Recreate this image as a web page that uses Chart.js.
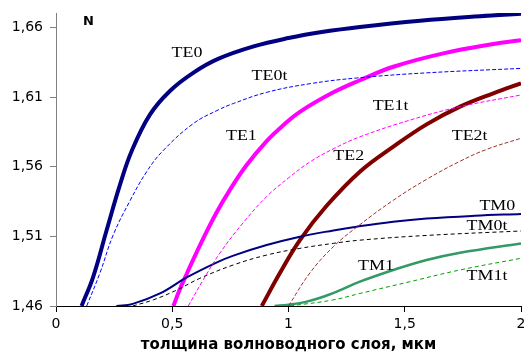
<!DOCTYPE html>
<html>
<head>
<meta charset="utf-8">
<script src="https://cdn.jsdelivr.net/npm/chart.js@4"></script>
<style>
  body { margin: 0; background: #fff; }
  #wrap { width: 524px; height: 356px; }
</style>
</head>
<body>
<div id="wrap"><canvas id="myChart"></canvas></div>
<script>
// значения
const te0X = [0.11, 0.16, 0.218, 0.275, 0.326, 0.404, 0.49, 0.59, 0.697, 0.85, 1.0, 1.15, 1.307, 1.566, 1.8, 2.0];
const te0Y = [1.46, 1.481, 1.5146, 1.547, 1.5715, 1.5975, 1.6145, 1.6275, 1.6375, 1.6465, 1.6525, 1.657, 1.6605, 1.665, 1.668, 1.67];

const te0tX = [0.132, 0.189, 0.246, 0.318, 0.39, 0.46, 0.59, 0.697, 0.763, 0.906, 1.092, 1.293, 1.594, 2.0];
const te0tY = [1.46, 1.4837, 1.511, 1.5355, 1.5565, 1.5715, 1.591, 1.6008, 1.6055, 1.6135, 1.6197, 1.6238, 1.6275, 1.6307];

const te1X = [0.505, 0.53, 0.562, 0.619, 0.69, 0.75, 0.82, 0.906, 0.975, 1.049, 1.193, 1.307, 1.451, 1.666, 1.881, 2.0];
const te1Y = [1.46, 1.471, 1.483, 1.5036, 1.527, 1.544, 1.5613, 1.5785, 1.5895, 1.5995, 1.6135, 1.6222, 1.6319, 1.6415, 1.6482, 1.651];

const te1tX = [0.569, 0.634, 0.705, 0.806, 0.906, 1.0, 1.092, 1.2, 1.307, 1.523, 1.738, 2.0];
const te1tY = [1.46, 1.479, 1.498, 1.52, 1.5386, 1.552, 1.5635, 1.5735, 1.5815, 1.5936, 1.6032, 1.6116];

const te2X = [0.885, 0.963, 1.049, 1.164, 1.307, 1.451, 1.594, 1.738, 1.881, 2.0];
const te2Y = [1.46, 1.4837, 1.5074, 1.532, 1.5565, 1.5745, 1.5905, 1.6032, 1.6128, 1.62];

const te2tX = [1.0, 1.092, 1.193, 1.3, 1.451, 1.594, 1.738, 1.852, 2.0];
const te2tY = [1.46, 1.4837, 1.5026, 1.5175, 1.536, 1.551, 1.564, 1.5725, 1.5805];

const tm0X = [0.26, 0.33, 0.447, 0.562, 0.69, 0.763, 0.906, 1.049, 1.193, 1.293, 1.45, 1.594, 1.8, 2.0];
const tm0Y = [1.46, 1.4615, 1.469, 1.4805, 1.4912, 1.4962, 1.5038, 1.5098, 1.5143, 1.517, 1.5205, 1.5228, 1.5248, 1.5261];

const tm0tX = [0.33, 0.42, 0.52, 0.619, 0.763, 0.906, 1.049, 1.193, 1.307, 1.594, 2.0];
const tm0tY = [1.46, 1.4645, 1.4715, 1.4799, 1.4895, 1.4966, 1.5014, 1.505, 1.5073, 1.5107, 1.5139];

const tm1X = [0.94, 1.0, 1.07, 1.14, 1.22, 1.307, 1.451, 1.594, 1.738, 2.0];
const tm1Y = [1.46, 1.4609, 1.4628, 1.4661, 1.4712, 1.4775, 1.4859, 1.4931, 1.4983, 1.505];

const tm1tX = [1.006, 1.19, 1.307, 1.523, 1.738, 2.0];
const tm1tY = [1.46, 1.4643, 1.469, 1.4775, 1.4859, 1.4943];

// подписи кривых (левый край текста, середина по высоте)
const labelTexts = ["TE0", "TE0t", "TE1", "TE1t", "TE2", "TE2t", "TM0", "TM0t", "TM1", "TM1t"];
const labelX = [0.497, 0.841, 0.731, 1.362, 1.193, 1.702, 1.821, 1.766, 1.299, 1.766];
const labelY = [1.6418, 1.6253, 1.5817, 1.6032, 1.5673, 1.5817, 1.5313, 1.517, 1.4884, 1.4812];

const yTicks = [1.46, 1.51, 1.56, 1.61, 1.66];
const xTicks = [0, 0.5, 1, 1.5, 2];

const toPoints = (xs, ys) => xs.map((x, i) => ({ x: x, y: ys[i] }));
const comma = (v) => String(v).replace(".", ",");

const serie = (xs, ys, color, width, dash) => ({
  data: toPoints(xs, ys),
  borderColor: color,
  borderWidth: width,
  borderDash: dash || [],
  showLine: true,
  pointRadius: 0,
  tension: 0.4,
  fill: false,
});

const datasets = [
  serie(te0tX, te0tY, "#0000ff", 1, [4, 2]),
  serie(te1tX, te1tY, "#ff00ff", 1, [4, 2]),
  serie(te2tX, te2tY, "#a03028", 1, [4, 2]),
  serie(tm0tX, tm0tY, "#000000", 1, [4, 3]),
  serie(tm1tX, tm1tY, "#00a000", 1, [4, 3]),
  serie(tm0X, tm0Y, "#000080", 2),
  serie(tm1X, tm1Y, "#339966", 2.5),
  serie(te2X, te2Y, "#800000", 4),
  serie(te1X, te1Y, "#ff00ff", 4),
  serie(te0X, te0Y, "#000080", 4),
];

const labelsPlugin = {
  id: "curveLabels",
  afterDatasetsDraw(chart) {
    const ctx = chart.ctx;
    const sx = chart.scales.x;
    const sy = chart.scales.y;
    ctx.save();
    ctx.fillStyle = "#000";
    ctx.textBaseline = "middle";
    ctx.textAlign = "left";
    ctx.font = "14px 'Liberation Serif'";
    labelTexts.forEach((t, i) => {
      ctx.save();
      ctx.translate(sx.getPixelForValue(labelX[i]), sy.getPixelForValue(labelY[i]));
      ctx.scale(1.28, 1); // в оригинале надписи растянуты по ширине
      ctx.fillText(t, 0, 0);
      ctx.restore();
    });
    ctx.font = "bold 13px 'DejaVu Sans'";
    ctx.fillText("N", sx.getPixelForValue(0.116), sy.getPixelForValue(1.6645));
    ctx.restore();
  },
};

const config = {
  type: "scatter",
  data: { datasets },
  options: {
    responsive: true,
    maintainAspectRatio: false,
    animation: false,
    layout: { padding: { top: 13, right: 3, left: 0, bottom: 0 } },
    plugins: { legend: { display: false }, tooltip: { enabled: false } },
    scales: {
      x: {
        type: "linear",
        min: 0,
        max: 2,
        afterFit: (scale) => {
          scale.height = 50;
          scale.paddingLeft = 0;
          scale.paddingRight = 0;
        },
        afterBuildTicks: (scale) => { scale.ticks = xTicks.map((v) => ({ value: v })); },
        border: { color: "#000", width: 1 },
        grid: { drawOnChartArea: false, tickLength: 6, tickColor: "#000" },
        ticks: {
          padding: 4,
          maxRotation: 0,
          color: "#000",
          font: { family: "'DejaVu Sans'", size: 14 },
          callback: (v) => comma(v),
        },
        title: {
          display: true,
          text: "толщина волноводного слоя, мкм",
          color: "#000",
          font: { family: "'DejaVu Sans'", size: 15, weight: "bold" },
          padding: { top: 0, bottom: 2 },
        },
      },
      y: {
        type: "linear",
        min: 1.46,
        max: 1.6705,
        afterFit: (scale) => {
          scale.width = 56;
          scale.paddingTop = 0;
          scale.paddingBottom = 0;
        },
        afterBuildTicks: (scale) => { scale.ticks = yTicks.map((v) => ({ value: v })); },
        border: { color: "#808080", width: 1 },
        grid: { drawOnChartArea: false, tickLength: 6, tickColor: "#808080" },
        ticks: {
          padding: 7,
          color: "#000",
          font: { family: "'DejaVu Sans'", size: 14 },
          callback: (v) => comma(v),
        },
      },
    },
  },
  plugins: [labelsPlugin],
};

const grafica = document.getElementById("myChart");
const mychart = new Chart(grafica, config);
</script>
</body>
</html>
